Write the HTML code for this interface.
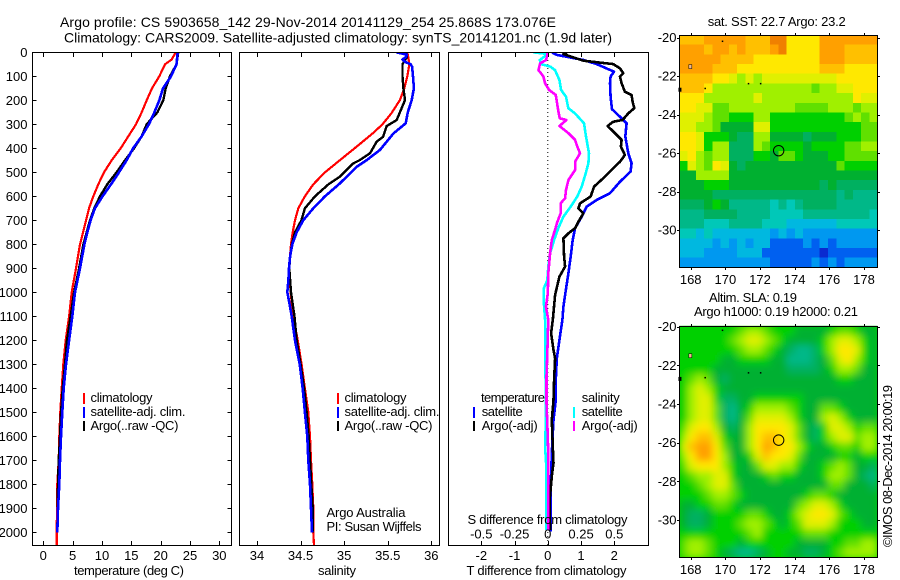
<!DOCTYPE html>
<html lang="en">
<head>
<meta charset="utf-8">
<title>Argo profile plot</title>
<style>
html,body{margin:0;padding:0;background:#fff;width:900px;height:580px;overflow:hidden}
svg{display:block}
text{font-family:"Liberation Sans",sans-serif;font-size:13px;fill:#000}
.t14{font-size:14px}
</style>
</head>
<body>
<svg id="chart" width="900" height="580" viewBox="0 0 900 580" xmlns="http://www.w3.org/2000/svg">
  <defs>
    <clipPath id="clipMap1"><rect x="679.5" y="35" width="198" height="232.3"/></clipPath>
    <clipPath id="clipMap2"><rect x="679.5" y="325.7" width="198" height="231.3"/></clipPath>
    <clipPath id="clipP1"><rect x="32.5" y="52" width="199" height="493.3"/></clipPath>
    <clipPath id="clipP2"><rect x="239.5" y="52" width="200" height="493.3"/></clipPath>
    <clipPath id="clipP3"><rect x="448.3" y="52" width="200.4" height="493.3"/></clipPath>
    <filter id="soft" x="-5%" y="-5%" width="110%" height="110%"><feGaussianBlur stdDeviation="3.6"/></filter>
  </defs>

  <text class="t14" x="60" y="27" textLength="496" lengthAdjust="spacing">Argo profile: CS 5903658_142 29-Nov-2014 20141129_254 25.868S 173.076E</text>
  <text class="t14" x="64" y="42.5" textLength="548" lengthAdjust="spacing">Climatology: CARS2009. Satellite-adjusted climatology: synTS_20141201.nc (1.9d later)</text>

  <g id="p1marks" clip-path="url(#clipP1)"></g>
  <g id="p2marks" clip-path="url(#clipP2)"></g>
  <g id="p3marks" clip-path="url(#clipP3)"></g>
  <g id="map1cells" clip-path="url(#clipMap1)"></g>
  <g id="map2clip" clip-path="url(#clipMap2)">
    <rect x="679.5" y="325.7" width="198" height="231.3" fill="#00d000"/>
    <g id="map2cells" filter="url(#soft)"></g>
  </g>
  <g id="overlay"></g>

  <rect x="32.5" y="52.5" width="199" height="493" fill="none" stroke="#000" stroke-width="1"/>
  <rect x="239.5" y="52.5" width="200" height="493" fill="none" stroke="#000" stroke-width="1"/>
  <rect x="448.5" y="52.5" width="200" height="493" fill="none" stroke="#000" stroke-width="1"/>
  <rect x="679.5" y="35.5" width="198" height="232" fill="none" stroke="#000" stroke-width="1"/>
  <rect x="679.5" y="326.5" width="198" height="231" fill="none" stroke="#000" stroke-width="1"/>

  <text x="74" y="575" textLength="110" lengthAdjust="spacing">temperature (deg C)</text>
  <text x="318" y="575" textLength="38" lengthAdjust="spacing">salinity</text>
  <text x="466.5" y="575" textLength="160" lengthAdjust="spacing">T difference from climatology</text>
  <text x="467.5" y="524" textLength="160" lengthAdjust="spacing">S difference from climatology</text>

  <g>
    <rect x="83" y="393" width="2" height="11" fill="#f00"/>
    <rect x="83" y="407" width="2" height="11" fill="#00f"/>
    <rect x="83" y="421" width="2" height="10" fill="#000"/>
    <text x="90.5" y="402" textLength="62" lengthAdjust="spacing">climatology</text>
    <text x="90.5" y="416" textLength="95" lengthAdjust="spacing">satellite-adj. clim.</text>
    <text x="90.5" y="430" textLength="88" lengthAdjust="spacing">Argo(..raw -QC)</text>
  </g>
  <g>
    <rect x="337" y="393" width="2" height="11" fill="#f00"/>
    <rect x="337" y="407" width="2" height="11" fill="#00f"/>
    <rect x="337" y="421" width="2" height="10" fill="#000"/>
    <text x="344.5" y="402" textLength="62" lengthAdjust="spacing">climatology</text>
    <text x="344.5" y="416" textLength="95" lengthAdjust="spacing">satellite-adj. clim.</text>
    <text x="344.5" y="430" textLength="88" lengthAdjust="spacing">Argo(..raw -QC)</text>
  </g>
  <text x="326.5" y="517" textLength="79" lengthAdjust="spacing">Argo Australia</text>
  <text x="326.5" y="531" textLength="95" lengthAdjust="spacing">PI: Susan Wijffels</text>
  <g>
    <text x="481" y="402" textLength="64" lengthAdjust="spacing">temperature</text>
    <rect x="473" y="407" width="2" height="11" fill="#00f"/>
    <rect x="473" y="421" width="2" height="10" fill="#000"/>
    <text x="481.7" y="416" textLength="41" lengthAdjust="spacing">satellite</text>
    <text x="481.7" y="430" textLength="56" lengthAdjust="spacing">Argo(-adj)</text>
    <text x="581.7" y="402" textLength="38" lengthAdjust="spacing">salinity</text>
    <rect x="573" y="407" width="2" height="11" fill="#0ff"/>
    <rect x="573" y="421" width="2" height="10" fill="#f0f"/>
    <text x="581.7" y="416" textLength="41" lengthAdjust="spacing">satellite</text>
    <text x="581.7" y="430" textLength="56" lengthAdjust="spacing">Argo(-adj)</text>
  </g>

  <text x="707.7" y="26" textLength="138" lengthAdjust="spacing">sat. SST: 22.7 Argo: 23.2</text>
  <text x="709" y="302" textLength="88" lengthAdjust="spacing">Altim. SLA: 0.19</text>
  <text x="694" y="316" textLength="164" lengthAdjust="spacing">Argo h1000: 0.19 h2000: 0.21</text>
  <text transform="translate(892,547) rotate(-90)" x="0" y="0" textLength="162" lengthAdjust="spacing">©IMOS 08-Dec-2014 20:00:19</text>
</svg>

<script>
// ---- profile data ----
const tempRedDepth = [0,30,50,100,150,200,250,300,350,400,450,500,550,600,650,700,800,900,1000,1100,1200,1300,1400,1500,1600,1700,1800,1900,2000,2055];
const tempRed = [22.56,21.88,20.74,19.78,18.53,17.62,16.77,15.8,14.49,13.19,11.65,10.35,9.38,8.53,7.79,7.28,6.26,5.57,4.84,4.4,3.82,3.41,3.13,2.9,2.73,2.62,2.39,2.33,2.28,2.28];
const tempBlueDepth = [0,50,100,150,200,250,300,350,400,450,500,550,600,650,700,750,800,900,1000,1100,1200,1300,1400,1500,1600,1700,1800,1900,2000];
const tempBlue = [22.9,22.7,21.76,20.4,19.78,18.93,18.0,16.77,15.3,14.2,12.9,11.54,10.1,8.8,8.07,7.5,7.0,6.26,5.4,4.95,4.4,3.87,3.47,3.24,3.02,2.85,2.73,2.5,2.39];
const tempBlackDepth = [0,50,100,150,200,250,300,350,400,450,500,550,600,650,700,800,900,1000,1100,1200,1300,1400,1500,1600,1700,1800,1900,2000];
const tempBlack = [23.0,22.7,21.6,20.86,20.46,19.44,17.62,16.77,15.46,13.92,12.5,10.9,9.66,8.7,7.96,6.83,6.1,5.25,4.66,4.04,3.7,3.3,3.02,2.85,2.62,2.5,2.45,2.39];

const salRedDepth = [0,20,50,100,150,199,253,300,337,393,449,500,550,600,650,700,750,800,850,900,1000,1100,1200,1300,1400,1500,1600,1700,1800,1900,2000,2055];
const salRed = [35.725,35.736,35.748,35.725,35.69,35.64,35.545,35.44,35.33,35.144,34.952,34.78,34.646,34.55,34.474,34.436,34.41,34.39,34.379,34.371,34.386,34.417,34.467,34.512,34.55,34.589,34.608,34.62,34.635,34.646,34.646,34.654];
const salBlueDepth = [0,5,10,20,30,40,50,60,100,150,199,250,296,338,407,449,477,546,600,650,700,750,800,850,900,950,1000,1040,1100,1200,1300,1400,1500,1600,1700,1800,1900,2000];
const salBlue = [35.6,35.66,35.72,35.71,35.67,35.70,35.763,35.78,35.79,35.80,35.775,35.73,35.706,35.566,35.41,35.259,35.144,34.952,34.78,34.646,34.53,34.455,34.405,34.38,34.367,34.36,34.348,34.37,34.398,34.436,34.49,34.524,34.55,34.577,34.589,34.608,34.62,34.631];
const salBlackDepth = [0,20,50,100,150,199,250,282,307,352,372,421,449,463,490,518,550,600,650,700,750,800,850,900,1000,1100,1200,1300,1400,1500,1600,1700,1800,1900,2000];
const salBlack = [35.71,35.72,35.67,35.67,35.68,35.698,35.64,35.603,35.488,35.447,35.373,35.297,35.18,35.105,35.03,34.952,34.82,34.665,34.55,34.51,34.436,34.4,34.38,34.371,34.39,34.43,34.455,34.5,34.54,34.57,34.593,34.608,34.623,34.64,34.64];

const dtBlueDepth = [0,11,32,49,81,101,129,185,237,275,296,351,421,462,497,539,587,615,643,685,733,782,851,921,983,1060,1115,1199,1276,1365,1449,1532,1643,1754,1865,1997];
const dtBlue = [0.12,0.27,1.07,1.47,1.99,1.89,1.87,1.89,1.93,2.22,2.37,2.33,2.42,2.52,2.49,2.17,1.87,1.47,1.17,1.02,0.82,0.75,0.69,0.62,0.55,0.47,0.44,0.35,0.27,0.24,0.24,0.17,0.13,0.10,0.08,0.08];
const dtBlackDepth = [0,7,35,43,49,67,87,101,129,164,178,206,233,254,282,289,307,337,365,393,428,456,483,518,560,601,629,650,671,706,733,754,775,851,893,935,1011,1115,1171,1240,1276,1365,1449,1532,1643,1712,1754,1872,1990];
const dtBlack = [0.57,0.47,1.07,1.57,1.97,2.17,2.27,2.17,2.22,2.32,2.52,2.55,2.6,2.42,2.25,1.97,1.8,2.02,2.22,2.2,2.32,2.17,1.97,1.72,1.39,1.29,0.97,0.92,1.07,0.92,0.82,0.62,0.47,0.49,0.52,0.35,0.22,0.15,0.1,0.17,0.22,0.19,0.17,0.12,0.15,0.17,0.13,0.05,0.07];
const dsCyanDepth = [0,7,32,49,60,74,115,157,185,233,254,296,351,421,462,504,560,601,643,685,733,782,837,893,949,983,1046,1115,1254,1393,1532,1643,1740,1865,1990];
const dsCyan = [-0.11,0,-0.06,-0.05,0.02,0.054,0.087,0.10,0.137,0.154,0.204,0.272,0.287,0.31,0.305,0.285,0.255,0.222,0.172,0.117,0.079,0.047,0.017,0.004,-0.004,-0.029,-0.029,-0.02,-0.02,-0.016,-0.014,-0.02,-0.01,-0.01,-0.01];
const dsMagentaDepth = [0,32,46,74,101,129,157,178,213,247,275,282,307,337,365,393,421,456,490,532,574,608,629,671,706,740,782,837,921,1004,1060,1115,1254,1351,1462,1546,1671,1865,1990];
const dsMagenta = [0,-0.013,-0.058,-0.07,-0.033,-0.02,0.01,0.06,0.07,0.08,0.09,0.14,0.087,0.155,0.205,0.222,0.242,0.205,0.205,0.155,0.137,0.13,0.097,0.097,0.072,0.054,0.03,0.017,0.004,0,-0.014,0.004,-0.004,-0.01,-0.01,-0.004,0.004,0.004,0.004];

// ---- tick labels ----
const depthTicks = [0,100,200,300,400,500,600,700,800,900,1000,1100,1200,1300,1400,1500,1600,1700,1800,1900,2000];
const tempTicks = [0,5,10,15,20,25,30];
const salTicks = [34,34.5,35,35.5,36];
const dtTicks = [-2,-1,0,1,2];
const dsTicks = [-0.5,-0.25,0,0.25,0.5];
const lonTicks = [168,170,172,174,176,178];
const latTicks = [-20,-22,-24,-26,-28,-30];

// ---- map data: colour-level per cell, rows north to south ----
const mapPalette = ["#0a2ad0","#0060f0","#0098f0","#00b8e0","#00c8b8","#00b888","#00b060","#00b030","#00d000","#60e000","#a0f000","#e0f000","#ffe800","#ffc000","#ffa000","#f08000"];
const sstLevels = [
[13,13,13,14,14,14,14,14,13,13,13,15,15,12,12,12,12,14,14,14,14,14,14,14],
[14,14,14,13,14,14,13,14,13,13,13,14,15,12,12,12,12,14,14,14,13,13,13,13],
[14,14,14,14,14,13,13,13,13,12,12,12,12,12,12,12,12,14,14,14,13,13,13,13],
[14,14,14,14,13,13,13,12,12,12,12,12,12,12,12,12,12,13,13,13,12,12,12,12],
[13,13,13,13,12,12,11,10,11,10,11,11,11,11,11,11,11,11,11,12,12,12,12,12],
[13,13,13,12,10,10,10,10,10,10,10,10,10,10,10,10,9,10,10,11,11,12,12,12],
[12,12,12,10,10,10,10,10,10,11,10,10,10,10,10,10,10,10,10,10,10,12,11,11],
[12,12,11,11,9,9,10,10,10,10,10,10,10,10,9,9,9,9,10,10,10,9,10,10],
[11,11,11,10,9,9,8,8,8,10,10,8,8,8,8,8,8,8,8,8,9,10,9,10],
[11,11,10,10,9,7,7,7,7,11,11,8,8,8,8,8,8,8,8,8,8,8,9,9],
[12,12,11,8,8,8,7,6,6,10,10,7,7,7,7,6,7,7,7,8,8,8,9,9],
[12,12,11,8,10,10,6,6,6,10,9,8,8,8,8,7,8,8,8,8,9,9,10,10],
[11,12,10,9,10,10,6,6,6,8,8,7,9,9,8,7,7,7,8,8,9,9,9,9],
[8,11,10,9,12,11,7,6,7,7,7,7,7,7,7,7,7,7,7,9,8,8,8,8],
[7,7,10,10,10,10,7,7,7,7,7,7,7,7,7,7,7,7,7,7,7,7,7,7],
[7,7,7,8,8,8,7,7,7,7,7,7,7,7,7,7,7,6,7,6,6,6,6,6],
[7,7,7,7,6,6,6,6,6,6,6,6,6,6,6,6,6,6,6,5,6,5,5,5],
[6,6,6,7,8,7,5,5,5,5,5,4,5,4,5,6,6,6,6,5,5,5,5,5],
[5,5,5,6,6,6,6,5,5,5,5,4,4,4,4,5,5,5,5,5,5,5,5,4],
[5,5,5,4,4,4,5,5,5,5,4,4,4,3,3,3,3,3,3,4,4,4,4,4],
[4,4,3,4,3,3,3,3,3,3,3,2,3,2,3,2,2,2,2,2,2,2,2,2],
[3,3,3,3,2,3,2,3,2,3,3,1,1,1,1,2,1,2,1,2,2,2,2,2],
[3,3,3,2,2,2,2,3,3,3,1,1,1,1,1,1,1,0,1,1,1,1,1,1],
[2,2,2,2,2,2,2,2,2,2,2,1,1,1,1,1,2,1,2,1,2,2,2,2]
];
const slaLevels = [
[8,8,8,8,8,8,8,9,10,10,9,8,8,8,7,7,7,7,8,9,9,8,7,7],
[8,8,8,8,8,8,9,10,11,11,10,9,8,7,7,7,7,8,10,11,11,10,8,7],
[8,8,8,8,8,8,8,9,10,10,9,8,7,6,5,5,6,8,10,12,12,11,8,7],
[8,8,8,8,8,7,7,8,8,8,8,7,7,5,5,5,6,7,9,11,12,10,8,7],
[8,8,8,8,7,7,7,7,7,7,7,7,7,6,6,6,6,7,8,10,10,9,7,7],
[8,9,10,9,7,6,7,7,7,7,7,7,7,7,7,7,7,7,7,8,8,7,7,7],
[8,10,11,10,8,7,7,7,7,7,7,7,7,7,7,7,7,7,7,7,7,7,7,7],
[8,10,11,11,8,6,6,7,7,8,8,8,8,8,8,7,7,7,7,7,7,7,7,7],
[8,10,11,11,9,6,5,7,8,10,10,10,10,9,8,7,7,9,9,8,7,7,7,7],
[8,10,11,11,9,6,5,7,9,11,11,11,11,10,8,7,7,10,11,10,8,7,7,7],
[9,11,12,12,10,7,6,7,10,12,12,12,12,11,9,7,6,8,11,11,10,8,9,9],
[10,12,13,13,11,8,7,7,10,12,13,13,12,11,9,7,6,8,10,11,11,9,10,10],
[11,13,14,14,12,9,7,7,10,12,14,13,12,12,10,8,7,7,8,9,9,8,10,10],
[10,12,14,14,12,10,7,7,8,11,13,12,12,11,9,7,7,7,7,8,8,7,8,8],
[9,11,12,12,12,10,8,7,7,9,11,11,10,10,8,7,7,8,9,10,9,7,7,6],
[8,9,10,10,11,11,8,7,7,7,8,9,8,8,7,7,7,8,10,10,9,7,6,5],
[8,8,9,10,11,11,9,7,7,7,7,7,7,7,7,7,7,7,9,9,7,7,7,6],
[8,8,8,9,10,10,9,8,7,7,7,7,7,7,7,8,9,9,8,7,7,7,7,7],
[7,7,8,8,9,9,8,7,7,7,7,7,7,7,9,10,11,11,10,8,7,7,7,7],
[7,6,6,7,8,8,8,8,9,9,8,7,7,8,10,11,12,12,11,9,8,7,7,7],
[7,6,6,7,8,8,8,9,10,10,9,8,7,8,9,11,11,11,10,8,8,8,7,7],
[8,8,8,8,8,8,8,8,9,10,8,8,8,8,8,9,9,9,8,8,8,8,8,8],
[9,10,10,9,8,8,8,7,8,8,8,8,8,8,7,7,7,7,8,8,9,9,10,10],
[9,10,10,9,8,7,6,5,5,6,7,8,8,7,7,6,6,7,8,9,10,10,10,10]
];
const profileLon = 173.076;
const profileLat = -25.868;
const islandLons = [167.95,167.35,169.85,171.35,172.05,168.85];
const islandLats = [-21.45,-22.65,-20.2,-22.4,-22.4,-22.65];

// ---- axis functions ----
const NS = "http://www.w3.org/2000/svg";
const yDepth = d => 52.3 + d * 0.24;
const xTemp = t => 43.3 + t * 5.867;
const xSal = s => 257 + (s - 34) * 87.15;
const xDT = t => 547.8 + t * 33.25;
const xDS = s => 547.8 + s * 133;
const xLon = lon => 690.7 + (lon - 168) * 17.33;
const yLat1 = lat => 37.7 + (-20 - lat) * 19.25;
const yLat2 = lat => 326.7 + (-20 - lat) * 19.33;

function make(tag, attrs, parent) {
  const e = document.createElementNS(NS, tag);
  for (const k in attrs) e.setAttribute(k, attrs[k]);
  parent.appendChild(e);
  return e;
}
function polyPoints(depths, values, xf) {
  return depths.map((d, i) => xf(values[i]).toFixed(1) + "," + yDepth(d).toFixed(1)).join(" ");
}
function profileLine(parent, depths, values, xf, color, w, name) {
  const line = make("polyline", {points: polyPoints(depths, values, xf), fill: "none", stroke: color, "stroke-width": w, "stroke-linejoin": "round", "shape-rendering": "crispEdges"}, parent);
  
  
}

const p1 = document.getElementById("p1marks");
const p2 = document.getElementById("p2marks");
const p3 = document.getElementById("p3marks");

profileLine(p1, tempRedDepth, tempRed, xTemp, "#f00", 2.2, "temperature-climatology-line");
profileLine(p1, tempBlackDepth, tempBlack, xTemp, "#000", 2.4, "temperature-argo-line");
profileLine(p1, tempBlueDepth, tempBlue, xTemp, "#00f", 2.6, "temperature-satellite-line");

profileLine(p2, salRedDepth, salRed, xSal, "#f00", 2.2, "salinity-climatology-line");
profileLine(p2, salBlackDepth, salBlack, xSal, "#000", 2.4, "salinity-argo-line");
profileLine(p2, salBlueDepth, salBlue, xSal, "#00f", 2.6, "salinity-satellite-line");

const zeroLine = make("line", {x1: xDT(0), x2: xDT(0), y1: 52, y2: 545, stroke: "#000", "stroke-width": 1, "stroke-dasharray": "1 3"}, p3);


profileLine(p3, dtBlueDepth, dtBlue, xDT, "#00f", 2.6, "t-difference-satellite-line");
profileLine(p3, dtBlackDepth, dtBlack, xDT, "#000", 2.6, "t-difference-argo-line");
profileLine(p3, dsCyanDepth, dsCyan, xDS, "#0ff", 2.6, "s-difference-satellite-line");
profileLine(p3, dsMagentaDepth, dsMagenta, xDS, "#f0f", 2.6, "s-difference-argo-line");

// ---- ticks ----
const ov = document.getElementById("overlay");
function tick(x1, y1, x2, y2, name) {
  const t = make("line", {x1: x1, y1: y1, x2: x2, y2: y2, stroke: "#000", "stroke-width": 1, "shape-rendering": "crispEdges"}, ov);
  
  
}
function label(x, y, anchor, str, name) {
  const t = make("text", {x: x, y: y, "text-anchor": anchor}, ov);
  t.textContent = str;
  
  
}
depthTicks.forEach(d => {
  const y = Math.round(yDepth(d)) + 0.5;
  tick(32.5, y, 36.5, y, "depth-tick");
  tick(227.5, y, 231.5, y, "depth-tick");
  label(27.5, yDepth(d) + 4.5, "end", String(d), "depth-tick-label");
});
tempTicks.forEach(v => {
  const x = Math.round(xTemp(v)) + 0.5;
  tick(x, 52.5, x, 57, "temperature-tick");
  tick(x, 541, x, 545.5, "temperature-tick");
  label(xTemp(v), 560, "middle", String(v), "temperature-tick-label");
});
salTicks.forEach(v => {
  const x = Math.round(xSal(v)) + 0.5;
  tick(x, 52.5, x, 57, "salinity-tick");
  tick(x, 541, x, 545.5, "salinity-tick");
  label(xSal(v), 560, "middle", String(v), "salinity-tick-label");
});
dtTicks.forEach(v => {
  const x = Math.round(xDT(v)) + 0.5;
  tick(x, 52.5, x, 57, "t-difference-tick");
  tick(x, 541, x, 545.5, "t-difference-tick");
  label(xDT(v), 560, "middle", String(v), "t-difference-tick-label");
});
dsTicks.forEach(v => {
  label(xDS(v), 538.5, "middle", String(v), "s-difference-tick-label");
});

// ---- maps ----
const m1 = document.getElementById("map1cells");
const m2 = document.getElementById("map2cells");
function drawMap(parent, rows, latTop, latBottom, yLat, name) {
  const nr = rows.length;
  const lonLeft = 167.35, lonRight = 178.78;
  rows.forEach((row, r) => {
    const nc = row.length;
    row.forEach((lv, c) => {
      const x0 = xLon(lonLeft + (lonRight - lonLeft) * c / nc);
      const x1 = xLon(lonLeft + (lonRight - lonLeft) * (c + 1) / nc);
      const y0 = yLat(latTop + (latBottom - latTop) * r / nr);
      const y1 = yLat(latTop + (latBottom - latTop) * (r + 1) / nr);
      const cell = make("rect", {x: x0.toFixed(2), y: y0.toFixed(2), width: (x1 - x0 + 0.6).toFixed(2), height: (y1 - y0 + 0.6).toFixed(2), fill: mapPalette[lv], "shape-rendering": "crispEdges"}, parent);
      
      
    });
  });
}
drawMap(m1, sstLevels, -19.86, -31.93, yLat1, "sst-cell");
drawMap(m2, slaLevels, -19.95, -31.96, yLat2, "sla-cell");

function mapDecor(yLat, prefix, top, bottom, labelBase) {
  lonTicks.forEach(v => {
    const x = Math.round(xLon(v)) + 0.5;
    tick(x, top - 2.5, x, top, prefix + "-lon-tick");
    tick(x, bottom, x, bottom + 2.5, prefix + "-lon-tick");
    label(xLon(v), labelBase, "middle", String(v), prefix + "-lon-tick-label");
  });
  latTicks.forEach(v => {
    const y = Math.round(yLat(v)) + 0.5;
    tick(677, y, 679.5, y, prefix + "-lat-tick");
    tick(877.5, y, 880, y, prefix + "-lat-tick");
    label(676.5, yLat(v) + 4.5, "end", String(v), prefix + "-lat-tick-label");
  });
  islandLons.forEach((lon, i) => {
    const isl = make("rect", {x: xLon(lon) - 1, y: yLat(islandLats[i]) - 1, width: i < 2 ? 3 : 1.5, height: i < 2 ? 4 : 1.5, fill: i === 0 ? "#f0b890" : "#000", stroke: i === 0 ? "#000" : "none", "stroke-width": 0.5}, ov);
    
    
  });
  const c = make("circle", {cx: xLon(profileLon), cy: yLat(profileLat), r: 5.2, fill: "none", stroke: "#000", "stroke-width": 1}, ov);
  
  
}
mapDecor(yLat1, "sst-map", 35.5, 267.5, 284);
mapDecor(yLat2, "sla-map", 326.5, 557.5, 574);
</script>
</body>
</html>
